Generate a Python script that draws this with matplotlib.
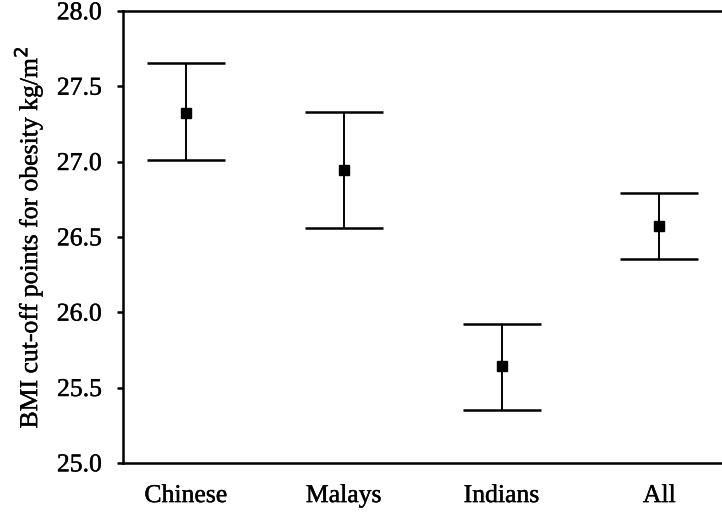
import matplotlib
matplotlib.use("Agg")
import matplotlib.pyplot as plt
import matplotlib.patheffects as pe
import numpy as np

groups = ["Chinese", "Malays", "Indians", "All"]
cutoff = [27.32, 26.945, 25.64, 26.57]
upper = [27.655, 27.33, 25.92, 26.79]
lower = [27.01, 26.56, 25.35, 26.35]
yticks = [25.0, 25.5, 26.0, 26.5, 27.0, 27.5, 28.0]

plt.rcParams["font.family"] = ["Liberation Serif", "DejaVu Serif"]
FS = 18.5
heavy = [pe.withStroke(linewidth=0.3, foreground="black")]

fig = plt.figure(figsize=(7.22, 5.16), dpi=100)
ax = fig.add_axes([0.170, 0.103, 0.835, 0.876])

x = np.arange(len(groups))
cut = np.array(cutoff)
yerr = np.vstack([cut - np.array(lower), np.array(upper) - cut])
ax.errorbar(x, cut, yerr=yerr, fmt="s", color="black", ms=6.5,
            elinewidth=1.4, capsize=28, capthick=1.8)

ax.set_ylim(25.0, 28.0)
ax.set_xlim(-0.40, 3.42)
ax.set_yticks(yticks)
ax.set_yticklabels([f"{v:.1f}" for v in yticks])
ax.set_xticks(x)
ax.set_xticklabels(groups)
ax.tick_params(axis="y", direction="out", length=4, width=1.8, pad=11, labelsize=FS)
ax.tick_params(axis="x", length=0, pad=16, labelsize=FS)
ax.set_ylabel("BMI cut-off points for obesity kg/m$^2$", fontsize=FS, labelpad=9)

for lbl in ax.get_xticklabels() + ax.get_yticklabels() + [ax.yaxis.label]:
    lbl.set_path_effects(heavy)

for side in ["left", "bottom", "top"]:
    ax.spines[side].set_linewidth(1.8)
ax.spines["right"].set_visible(False)

fig.savefig("out.png", dpi=100)
